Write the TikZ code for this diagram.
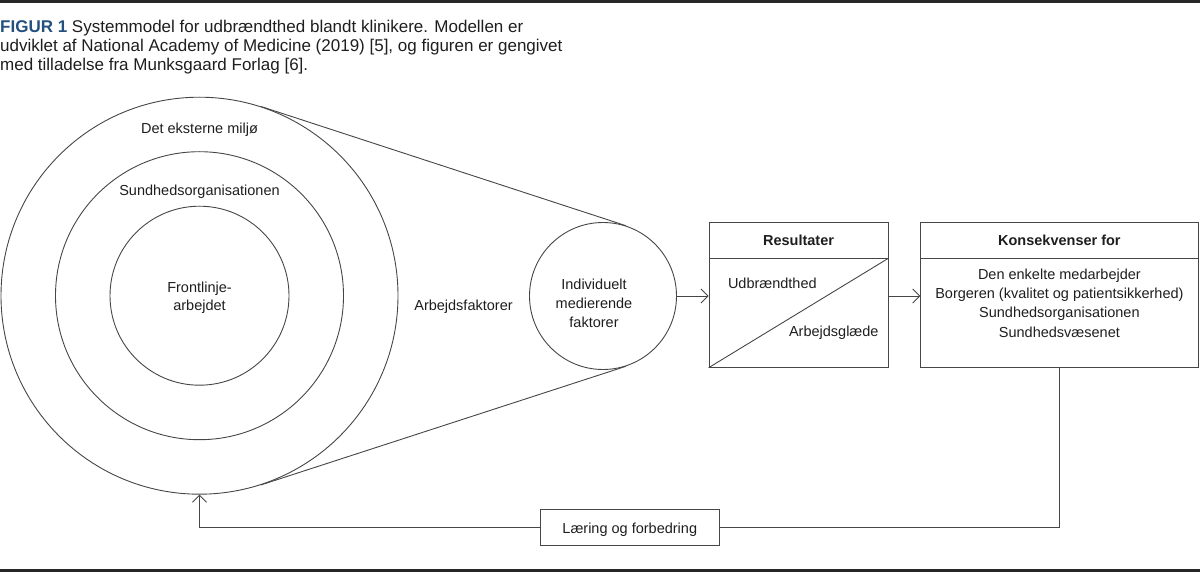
\documentclass[tikz,border=0pt]{standalone}
\usepackage{fontspec}
\setmainfont{Liberation Sans}
\usetikzlibrary{arrows.meta,calc}
\definecolor{figblue}{RGB}{35,80,125}
\definecolor{linec}{RGB}{70,70,70}
\definecolor{textc}{RGB}{30,30,30}
\begin{document}
\begin{tikzpicture}[x=1pt,y=-1pt,
  lbl/.style={inner sep=0pt,text=textc,font=\fontsize{14.5}{19}\selectfont},
  ttl/.style={inner sep=0pt,text=textc,font=\fontsize{17}{19}\selectfont,anchor=base west},
  ring/.style={circle,draw=linec,line width=0.9pt,inner sep=0pt},
  boxx/.style={rectangle,draw=linec,line width=0.9pt,inner sep=0pt},
  conn/.style={draw=linec,line width=0.9pt},
  arr/.style={conn,-{Straight Barb[length=7pt,width=14pt,line width=0.9pt]}}
]
\useasboundingbox (0,0) rectangle (1200,572);
% rules
\draw[line width=2.5pt,black!85] (0,1.5) -- (1200,1.5);
\draw[line width=2.5pt,black!85] (0,570.5) -- (1200,570.5);
% title
\node[ttl] (t1) at (0,32.2) {\textcolor{figblue}{\textbf{FIGUR 1}} Systemmodel for udbrændthed blandt klinikere. Modellen er};
\node[ttl] (t2) at (0,51.6) {udviklet af National Academy of Medicine (2019) [5], og figuren er gengivet};
\node[ttl] (t3) at (0,71) {med tilladelse fra Munksgaard Forlag [6].};
% circles
\node[ring,minimum size=397pt] (ext) at (199.5,295.7) {};
\node[ring,minimum size=288pt] (org) at (199.5,295.7) {};
\node[ring,minimum size=179pt] (front) at (199.5,295.7) {};
\node[ring,minimum size=147pt] (ind) at (603,296) {};
\draw[conn] (ext.72) -- (ind.72);
\draw[conn] (ext.-72) -- (ind.-72);
% circle labels
\node[lbl,anchor=base] (l1) at (199.5,134) {Det eksterne miljø};
\node[lbl,anchor=base] (l2) at (199.5,195.5) {Sundhedsorganisationen};
\node[lbl,anchor=base] (l3) at (199.5,292.3) {Frontlinje-};
\node[lbl,anchor=base] (l4) at (199.5,310.8) {arbejdet};
\node[lbl,anchor=base] (l5) at (463.5,310.5) {Arbejdsfaktorer};
\node[lbl,anchor=base] (l6) at (594,289.3) {Individuelt};
\node[lbl,anchor=base] (l7) at (594,308.3) {medierende};
\node[lbl,anchor=base] (l8) at (594,327.3) {faktorer};
% Resultater box
\node[boxx,minimum width=179pt,minimum height=36pt] (reshead) at (798.5,240.7) {};
\node[boxx,minimum width=179pt,minimum height=108.6pt] (resbody) at (798.5,313) {};
\draw[conn] (resbody.south west) -- (resbody.north east);
\node[lbl,anchor=base,font=\fontsize{14.5}{19}\selectfont\bfseries] (rt) at (798.5,245.7) {Resultater};
\node[lbl,anchor=base west] (r1) at (727.8,289) {Udbrændthed};
\node[lbl,anchor=base east] (r2) at (878.7,336.7) {Arbejdsglæde};
% Konsekvenser box
\node[boxx,minimum width=277.3pt,minimum height=36pt] (konhead) at (1059.4,240.7) {};
\node[boxx,minimum width=277.3pt,minimum height=108.6pt] (konbody) at (1059.4,313) {};
\node[lbl,anchor=base,font=\fontsize{14.5}{19}\selectfont\bfseries] (kt) at (1059.4,245.7) {Konsekvenser for};
\node[lbl,anchor=base] (k1) at (1059.4,279.5) {Den enkelte medarbejder};
\node[lbl,anchor=base] (k2) at (1059.4,298.7) {Borgeren (kvalitet og patientsikkerhed)};
\node[lbl,anchor=base] (k3) at (1059.4,317.9) {Sundhedsorganisationen};
\node[lbl,anchor=base] (k4) at (1059.4,337.1) {Sundhedsvæsenet};
% arrows
\draw[arr] (ind.east) -- (ind.east -| resbody.west);
\draw[arr] (resbody.east |- ind.east) -- (konbody.west |- ind.east);
% feedback
\node[boxx,minimum width=179.6pt,minimum height=36.3pt] (laer) at (629.8,527.2) {};
\node[lbl,anchor=base] (lt) at (629.8,533) {Læring og forbedring};
\draw[conn] (konbody.south) |- (laer.east);
\draw[arr] (laer.west) -| (ext.south);
\end{tikzpicture}
\end{document}
